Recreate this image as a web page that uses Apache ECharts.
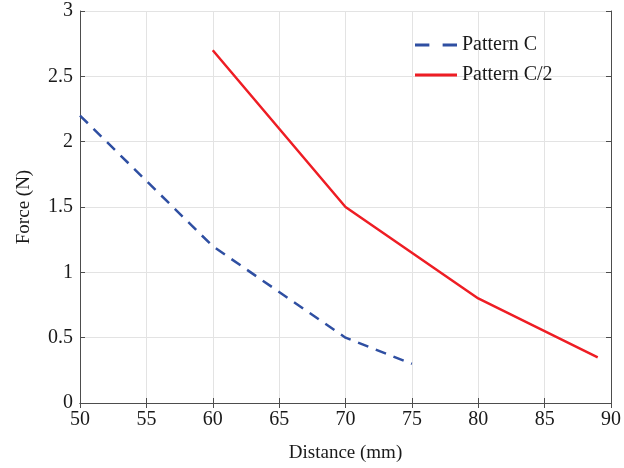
<!DOCTYPE html>
<html>
<head>
<meta charset="utf-8">
<title>Force vs distance</title>
<script src="https://cdn.jsdelivr.net/npm/echarts@6/dist/echarts.min.js"></script>
<style>
  html, body { margin: 0; padding: 0; background: #fff; }
  #chart { width: 624px; height: 468px; }
</style>
</head>
<body>
<div id="chart"></div>
<script>
// data
const seriesNames = ['Pattern C', 'Pattern C/2'];
const distC = [50, 60, 70, 75];
const forceC = [2.2, 1.2, 0.5, 0.3];
const distC2 = [60, 70, 80, 89];
const forceC2 = [2.7, 1.5, 0.8, 0.35];

const font = 'Liberation Serif';
const axisColor = '#4d4d4d';

// legend swatches: two dashes / one solid bar
const dashIcon = 'path://M0,0H13V1H0Z M25,0H38V1H25Z';
const solidIcon = 'path://M0,0H42V1H0Z';

function pairs(xs, ys) {
  return xs.map((x, i) => [x, ys[i]]);
}

const chart = echarts.init(document.getElementById('chart'));

// MATLAB style box: extra top/right axes only carry the line and inner ticks
const xBase = {
  type: 'value', min: 50, max: 90, interval: 5,
  axisLine: { show: true, lineStyle: { color: axisColor, width: 1 } },
  axisTick: { show: true, inside: true, length: 5, lineStyle: { color: axisColor } }
};
const yBase = {
  type: 'value', min: 0, max: 3, interval: 0.5,
  axisLine: { show: true, lineStyle: { color: axisColor, width: 1 } },
  axisTick: { show: true, inside: true, length: 5, lineStyle: { color: axisColor } }
};

chart.setOption({
  animation: false,
  textStyle: { fontFamily: font },
  grid: { left: 80, right: 10, top: 11, bottom: 65 },
  legend: {
    data: [
      { name: seriesNames[0], icon: dashIcon },
      { name: seriesNames[1], icon: solidIcon }
    ],
    orient: 'vertical',
    left: 410,
    top: 30,
    itemWidth: 42,
    itemHeight: 3,
    itemGap: 10,
    symbolKeepAspect: false,
    textStyle: { fontFamily: font, fontSize: 20, color: '#1a1a1a' }
  },
  xAxis: [
    Object.assign({}, xBase, {
      position: 'bottom',
      name: 'Distance (mm)',
      nameLocation: 'middle',
      nameGap: 41,
      nameTextStyle: { fontFamily: font, fontSize: 19, color: '#1a1a1a' },
      axisLabel: { fontFamily: font, fontSize: 20, color: '#1a1a1a', margin: 7 },
      splitLine: { show: true, lineStyle: { color: '#e3e3e3', width: 1 } }
    }),
    Object.assign({}, xBase, {
      position: 'top',
      axisLabel: { show: false },
      splitLine: { show: false }
    })
  ],
  yAxis: [
    Object.assign({}, yBase, {
      position: 'left',
      name: 'Force (N)',
      nameLocation: 'middle',
      nameGap: 46,
      nameTextStyle: { fontFamily: font, fontSize: 19, color: '#1a1a1a' },
      axisLabel: { fontFamily: font, fontSize: 20, color: '#1a1a1a', margin: 7 },
      splitLine: { show: true, lineStyle: { color: '#e3e3e3', width: 1 } }
    }),
    Object.assign({}, yBase, {
      position: 'right',
      axisLabel: { show: false },
      splitLine: { show: false }
    })
  ],
  series: [
    {
      name: seriesNames[0],
      type: 'line',
      data: pairs(distC, forceC),
      symbol: 'none',
      color: '#2f4fa2',
      lineStyle: { color: '#2f4fa2', width: 2.5, type: [11, 8] }
    },
    {
      name: seriesNames[1],
      type: 'line',
      data: pairs(distC2, forceC2),
      symbol: 'none',
      color: '#ee1d24',
      lineStyle: { color: '#ee1d24', width: 2.5, type: 'solid' }
    }
  ]
});
</script>
</body>
</html>
